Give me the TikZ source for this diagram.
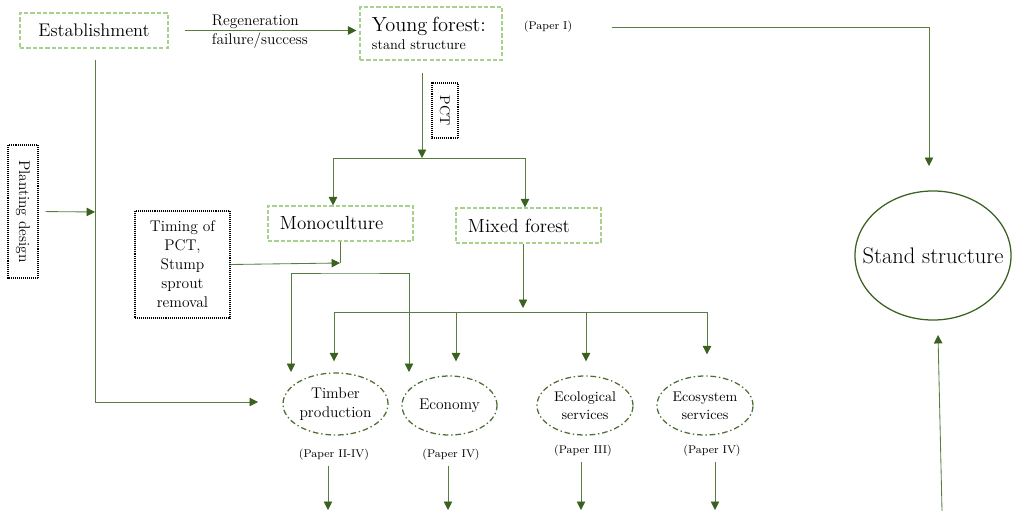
\documentclass[tikz,border=0pt]{standalone}
\usepackage{tikz}
\usetikzlibrary{arrows.meta, shapes.geometric}
\definecolor{linegreen}{RGB}{88,125,64}
\definecolor{headgreen}{RGB}{59,97,33}
\definecolor{boxgreen}{RGB}{169,209,142}
\definecolor{ovalgreen}{RGB}{78,110,52}

\begin{document}
\begin{tikzpicture}[x=0.025cm, y=-0.025cm,
  link/.style={draw=linegreen, line width=0.6pt},
  arr/.style={link, -{Triangle[width=6pt,length=6pt,color=headgreen]}},
  arrboth/.style={link, {Triangle[width=6pt,length=6pt,color=headgreen]}-{Triangle[width=6pt,length=6pt,color=headgreen]}},
  greenbox/.style={draw=boxgreen, line width=0.8pt, dash pattern=on 3pt off 1.5pt, inner xsep=0.3cm, inner ysep=0pt, minimum height=0.875cm, align=left},
  dotbox/.style={draw=black, line width=0.8pt, dash pattern=on 0.7pt off 0.7pt, inner sep=0pt, align=center},
  oval/.style={ellipse, draw=ovalgreen, line width=0.9pt, dash pattern=on 4pt off 2pt on 1pt off 2pt, inner sep=0pt, align=center},
  paper/.style={font=\fontsize{8}{10}\selectfont}]
\useasboundingbox (0,0) rectangle (1016,511);

\node[greenbox, minimum width=3.7cm, align=center, font=\fontsize{13}{15}\selectfont] (est) at (94,30.5) {Establishment};
\node[greenbox, minimum width=3.55cm, minimum height=1.325cm, text width=2.95cm] (young) at (431,33.5)
  {{\fontsize{14.5}{16}\selectfont Young forest:}\\[1pt]{\fontsize{10}{12}\selectfont stand structure}};
\node[anchor=west, align=left, font=\fontsize{11}{13.5}\selectfont] (regen) at (207,31.5) {Regeneration\\failure/success};
\node[paper] (p1) at (548,27) {(Paper I)};

\node[dotbox, rotate=-90, minimum width=3.325cm, minimum height=0.75cm, font=\fontsize{11}{13}\selectfont] (plant) at (23,211.5) {Planting design};
\node[dotbox, rotate=-90, minimum width=1.375cm, minimum height=0.65cm, font=\fontsize{10}{12}\selectfont] (pct) at (445,110.5) {PCT};
\node[dotbox, minimum width=2.375cm, minimum height=2.675cm, font=\fontsize{11}{13.5}\selectfont] (timing) at (182.5,264.5) {Timing of\\PCT,\\Stump\\sprout\\removal};

\node[greenbox, minimum width=3.625cm, text width=3.025cm, font=\fontsize{13.5}{15}\selectfont] (mono) at (340.5,223.5) {Monoculture};
\node[greenbox, minimum width=3.625cm, text width=3.025cm, font=\fontsize{13.5}{15}\selectfont] (mixed) at (528.5,225.5) {Mixed forest};

\node[oval, minimum width=2.625cm, minimum height=1.55cm, font=\fontsize{11}{13}\selectfont] (timber) at (335.5,404) {Timber\\production};
\node[oval, minimum width=2.375cm, minimum height=1.475cm, font=\fontsize{11}{13}\selectfont] (econ) at (449.5,405.5) {Economy};
\node[oval, minimum width=2.4cm, minimum height=1.475cm, font=\fontsize{10}{13}\selectfont] (ecol) at (585,405.5) {Ecological\\services};
\node[oval, minimum width=2.4cm, minimum height=1.475cm, font=\fontsize{10}{13}\selectfont] (ecos) at (705,405.5) {Ecosystem\\services};

\node[paper] (pt) at (334,455) {(Paper II-IV)};
\node[paper] (pe) at (451,455) {(Paper IV)};
\node[paper] (pl) at (583,451) {(Paper III)};
\node[paper] (ps) at (712,451) {(Paper IV)};

\node[ellipse, draw=headgreen, line width=0.9pt, minimum width=3.9cm, minimum height=3.225cm, inner sep=0pt, font=\fontsize{16}{19}\selectfont] (stand) at (933,255.5) {\makebox[0pt]{Stand structure}};

\coordinate (s0) at (612,27);
\coordinate (s1) at (929,166);
\coordinate (u0) at (942,511);
\coordinate (u1) at (938,335);
\coordinate (e1) at (95,60);
\coordinate (e2) at (258,402);
\coordinate (pd) at (95,212);
\coordinate (yb) at (422,158);
\coordinate (bl) at (333,158);
\coordinate (br) at (525,158);
\coordinate (mj) at (340,263);
\coordinate (t1) at (291,372);
\coordinate (mt) at (350,273);
\coordinate (e3) at (409,372);
\coordinate (mb) at (523,308);
\coordinate (r1) at (334,312);
\coordinate (r2) at (456,312);
\coordinate (r3) at (586,312);
\coordinate (r4) at (707,312);
\coordinate (d1) at (328,510);
\coordinate (d2) at (448,510);
\coordinate (d3) at (581,510);
\coordinate (d4) at (715,510);

\draw[arr, shorten <=0.4cm, shorten >=0.075cm] (est.east) -- (est.east -| young.west);
\draw[arr] (s0) -| (s1);
\draw[arr] (u0) -- (u1);
\draw[arr] (e1) |- (e2);
\draw[arr, shorten <=0.175cm] (plant.north) -- (pd);
\draw[arr, shorten <=0.3cm] (young.south -| yb) -- (yb);
\draw[link] (bl) -- (br);
\draw[arr] (bl) -- (bl |- mono.north);
\draw[arr] (br) -- (br |- mixed.north);
\draw[link] (mono.south -| mj) -- (mj);
\draw[arr] (timing.east) -- (mj);
\draw[arrboth] (t1) |- (mt) -| (e3);
\draw[arr] (mixed.south -| mb) -- (mb);
\draw[link] (r1) -- (r4);
\draw[arr, shorten >=0.275cm] (r1) -- (r1 |- timber.north);
\draw[arr, shorten >=0.35cm] (r2) -- (r2 |- econ.north);
\draw[arr, shorten >=0.35cm] (r3) -- (r3 |- ecol.north);
\draw[arr, shorten >=0.525cm] (r4) -- (r4 |- ecos.north);
\draw[arr] (pt.south -| d1) -- (d1);
\draw[arr] (pe.south -| d2) -- (d2);
\draw[arr] (pl.south -| d3) -- (d3);
\draw[arr] (ps.south -| d4) -- (d4);
\end{tikzpicture}
\end{document}
